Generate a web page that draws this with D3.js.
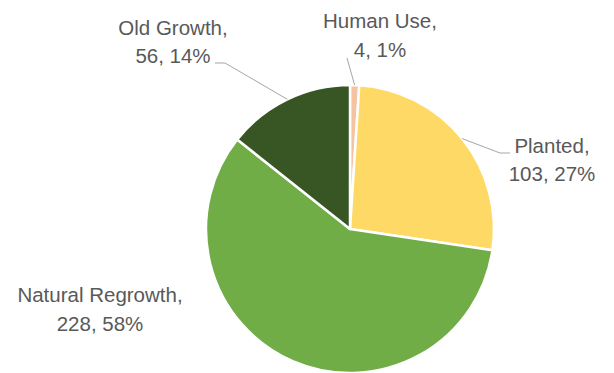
<!DOCTYPE html>
<html>
<head>
<meta charset="utf-8">
<script src="https://cdn.jsdelivr.net/npm/d3@7"></script>
<style>
  html, body { margin: 0; padding: 0; background: #fff; }
  svg { display: block; }
  .lbl { font-family: "Liberation Sans", Arial, sans-serif; font-size: 20.5px; fill: #595959; }
</style>
</head>
<body>
<svg id="chart" width="614" height="373"></svg>
<script>
// Forest area by origin
const categories = ["Human Use", "Planted", "Natural Regrowth", "Old Growth"];
const values = [4, 103, 228, 56];
const percentLabels = ["1%", "27%", "58%", "14%"];
const colors = ["#F6C3A2", "#FFD966", "#70AD47", "#375623"];

// Label placement: text centre, baselines, and optional leader elbow
const labelLayout = {
  "Human Use":        { x: 380, y1: 28,  y2: 57,  lineFrom: [347, 58] },
  "Planted":          { x: 552, y1: 153, y2: 181, lineFrom: [510, 153], elbow: [500, 153] },
  "Natural Regrowth": { x: 100, y1: 302, y2: 331 },
  "Old Growth":       { x: 173, y1: 35,  y2: 63,  lineFrom: [215, 63], elbow: [225, 63] }
};

const cx = 350, cy = 229, radius = 144;
const svg = d3.select("#chart");
const g = svg.append("g").attr("transform", `translate(${cx},${cy})`);

const pie = d3.pie().sort(null).value(d => d.value);
const arc = d3.arc().innerRadius(0).outerRadius(radius);

const data = categories.map((c, i) => ({ name: c, value: values[i], pct: percentLabels[i], color: colors[i] }));
const arcs = pie(data);

g.selectAll("path.slice")
  .data(arcs)
  .join("path")
  .attr("class", "slice")
  .attr("d", arc)
  .attr("fill", d => d.data.color)
  .attr("stroke", "#fff")
  .attr("stroke-width", 2.5)
  .attr("stroke-linejoin", "round");

// Leader lines from labels to slice edges
arcs.forEach(a => {
  const L = labelLayout[a.data.name];
  if (!L.lineFrom) return;
  const mid = (a.startAngle + a.endAngle) / 2;
  const end = [cx + radius * Math.sin(mid), cy - radius * Math.cos(mid)];
  const pts = [L.lineFrom];
  if (L.elbow) pts.push(L.elbow);
  pts.push(end);
  svg.append("path")
    .attr("d", d3.line()(pts))
    .attr("fill", "none")
    .attr("stroke", "#A6A6A6")
    .attr("stroke-width", 1);
});

// Data labels
arcs.forEach(a => {
  const L = labelLayout[a.data.name];
  const t = svg.append("text").attr("class", "lbl").attr("text-anchor", "middle");
  t.append("tspan").attr("x", L.x).attr("y", L.y1).text(a.data.name + ",");
  t.append("tspan").attr("x", L.x).attr("y", L.y2).text(a.data.value + ", " + a.data.pct);
});
</script>
</body>
</html>
